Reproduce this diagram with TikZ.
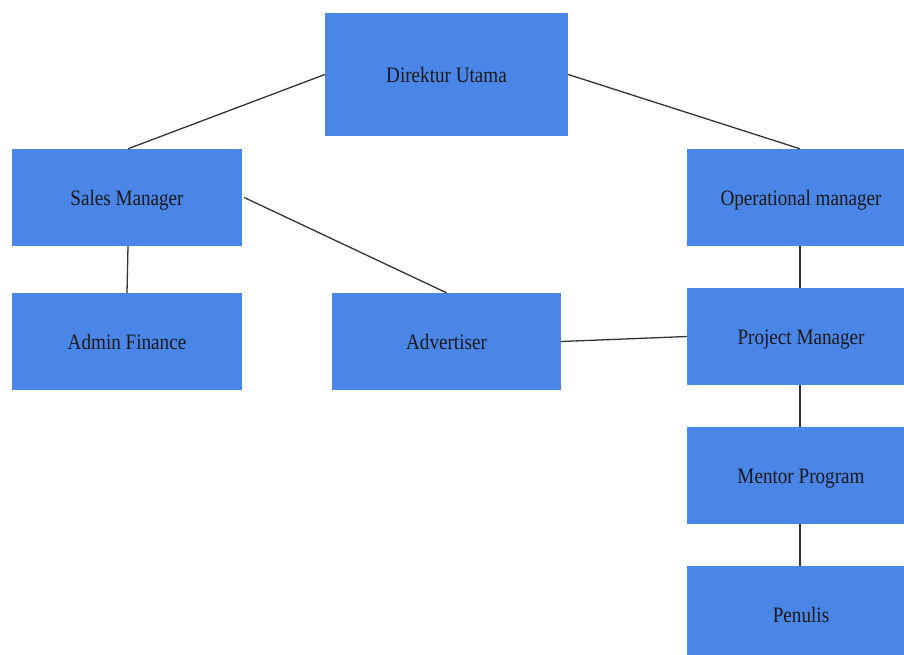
\documentclass[tikz,border=0pt]{standalone}
\usepackage{fontspec}
\setmainfont{Liberation Serif}[FakeStretch=0.87]
\begin{document}
\begin{tikzpicture}[x=1pt,y=-1pt,
  box/.style={fill=boxblue, draw=none, inner sep=0pt, align=center,
    text height=21pt, text depth=5pt,
    font=\fontsize{22}{26}\selectfont, text=black!90},
  link/.style={draw=black!80, line width=1.3pt}]
\definecolor{boxblue}{HTML}{4A86E8}
\useasboundingbox (0,0) rectangle (904,654);
\begin{scope}
\clip (0,0) rectangle (904,654);
\node[box, minimum width=243pt, minimum height=123pt] (dir) at (446.5,74.5) {Direktur Utama};
\node[box, minimum width=230pt, minimum height=97pt] (sales) at (127,197.5) {Sales Manager};
\node[box, minimum width=228pt, minimum height=97pt] (ops) at (801,197.5) {Operational manager};
\node[box, minimum width=230pt, minimum height=97pt] (admin) at (127,341.5) {Admin Finance};
\node[box, minimum width=229pt, minimum height=97pt] (adv) at (446.5,341.5) {Advertiser};
\node[box, minimum width=228pt, minimum height=97pt] (proj) at (801,336.5) {Project Manager};
\node[box, minimum width=228pt, minimum height=97pt] (mentor) at (801,475.5) {Mentor Program};
\node[box, minimum width=228pt, minimum height=97pt] (pen) at (801,614.5) {Penulis};
\draw[link] (dir.west) -- ([xshift=1pt]sales.north);
\draw[link] (dir.east) -- ([xshift=-1pt]ops.north);
\draw[link] ([xshift=1pt]sales.south) -- (admin.north);
\draw[link] ([xshift=2pt]sales.east) -- (adv.north);
\draw[link] (adv.east) -- (proj.west);
\draw[link] ([xshift=-1pt]ops.south) -- ([xshift=-1pt]proj.north);
\draw[link] ([xshift=-1pt]proj.south) -- ([xshift=-1pt]mentor.north);
\draw[link] ([xshift=-1pt]mentor.south) -- ([xshift=-1pt]pen.north);
\end{scope}
\end{tikzpicture}
\end{document}
